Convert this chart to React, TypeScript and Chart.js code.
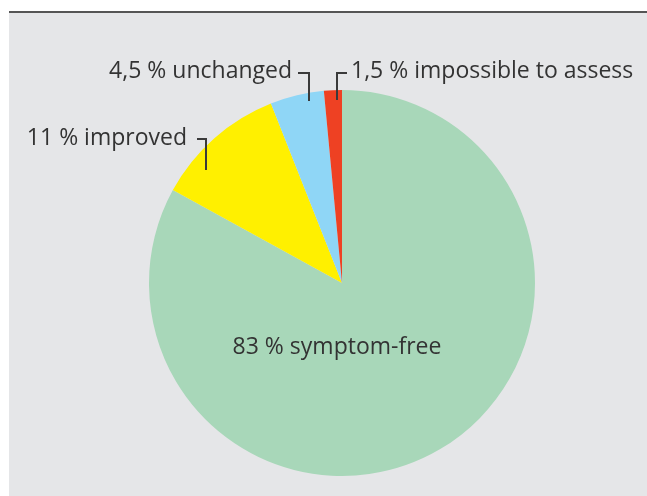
import React, { useEffect, useRef } from "react";
import { Chart, registerables } from "chart.js";

Chart.register(...registerables);

const categories = ["symptom-free", "improved", "unchanged", "impossible to assess"];
const values = [83, 11, 4.5, 1.5];
const valueLabels = ["83 %", "11 %", "4,5 %", "1,5 %"];
const colors = ["#a8d7b9", "#fff000", "#8fd6f6", "#ee4123"];

const FONT = "23px 'Open Sans', sans-serif";
const TEXT = "#333333";

const panelPlugin = {
  id: "panel",
  beforeDraw(chart: any) {
    const { ctx, width, height } = chart;
    ctx.save();
    ctx.fillStyle = "#ffffff";
    ctx.fillRect(0, 0, width, height);
    ctx.fillStyle = "#e5e6e8";
    ctx.fillRect(9, 12, width - 9, height - 12);
    ctx.fillStyle = "#555555";
    ctx.fillRect(9, 11, width - 9, 2);
    ctx.restore();
  },
};

const labelPlugin = {
  id: "labels",
  afterDraw(chart: any) {
    const { ctx } = chart;
    const arc = chart.getDatasetMeta(0).data[0];
    const cx = arc.x;
    const cy = arc.y;
    ctx.save();
    ctx.font = FONT;
    ctx.fillStyle = TEXT;
    ctx.textBaseline = "alphabetic";

    // symptom-free inside
    ctx.textAlign = "center";
    ctx.fillText(`${valueLabels[0]} ${categories[0]}`, cx - 5, cy + 71);

    // improved
    ctx.textAlign = "right";
    ctx.fillText(`${valueLabels[1]} ${categories[1]}`, cx - 155, cy - 138);
    // unchanged
    ctx.fillText(`${valueLabels[2]} ${categories[2]}`, cx - 50, cy - 205);
    // impossible
    ctx.textAlign = "left";
    ctx.fillText(`${valueLabels[3]} ${categories[3]}`, cx + 9, cy - 205);

    ctx.strokeStyle = "#3a3a3a";
    ctx.lineWidth = 2;
    const bracket = (x0: number, x1: number, y: number, y1: number) => {
      ctx.beginPath();
      ctx.moveTo(x0, y);
      ctx.lineTo(x1, y);
      ctx.lineTo(x1, y1);
      ctx.stroke();
    };
    // improved connector
    bracket(cx - 145, cx - 136, cy - 144, cy - 113);
    // unchanged connector
    bracket(cx - 44, cx - 33, cy - 210, cy - 182);
    // impossible connector
    bracket(cx + 5, cx - 5, cy - 210, cy - 183);
    ctx.restore();
  },
};

export default function App() {
  const ref = useRef<HTMLCanvasElement | null>(null);
  useEffect(() => {
    document.body.style.margin = "0";
    const chart = new Chart(ref.current as HTMLCanvasElement, {
      type: "pie",
      data: {
        labels: categories,
        datasets: [
          {
            data: values,
            backgroundColor: colors,
            borderWidth: 0,
          },
        ],
      },
      options: {
        animation: false,
        responsive: false,
        layout: { padding: { top: 90, bottom: 20, left: 149, right: 112 } },
        plugins: {
          legend: { display: false },
          tooltip: { enabled: false },
        },
      },
      plugins: [panelPlugin, labelPlugin],
    });
    return () => chart.destroy();
  }, []);
  return (
    <div style={{ position: "fixed", left: 0, top: 0, width: 647, height: 496 }}>
      <canvas ref={ref} width={647} height={496} style={{ width: 647, height: 496, display: "block" }} />
    </div>
  );
}
